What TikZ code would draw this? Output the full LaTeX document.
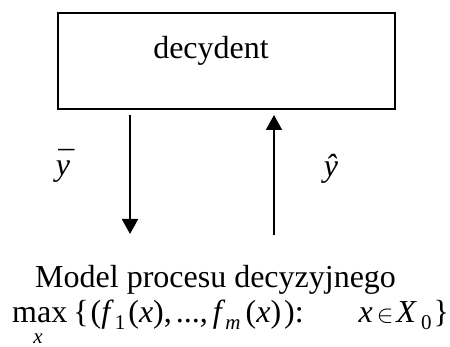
\documentclass[tikz,border=0pt]{standalone}
\usepackage{fontspec}
\setmainfont{Liberation Serif}
\usetikzlibrary{arrows.meta}
\newcommand\bigfont{\fontsize{32}{38}\selectfont}
\newcommand\subfnt[1]{\raisebox{-7pt}{\fontsize{21}{22}\selectfont #1}}
\begin{document}
\begin{tikzpicture}[x=1pt,y=-1pt,
  txt/.style={inner sep=0pt, font=\bigfont},
  flow/.style={line width=2pt, -{Triangle[width=16pt,length=15pt]}}]
\useasboundingbox (0,0) rectangle (450,347);
\node[draw, line width=2pt, minimum width=337pt, minimum height=96pt, inner sep=0pt] (dec) at (226.5,61) {};
\node[txt, anchor=base] (dectext) at (211,59) {decydent};
\coordinate (d1) at (130,115);
\coordinate (d2) at (130,234);
\coordinate (u1) at (274,235);
\coordinate (u2) at (274,115);
\draw[flow] (d1) -- (d2);
\draw[flow] (u1) -- (u2);
\node[txt, anchor=base] (ybar) at (63,176) {\makebox[0pt][l]{\hspace{2.5pt}\raisebox{2pt}{¯}}\textit{y}};
\node[txt, anchor=base] (yhat) at (331,177) {\textit{ŷ}};
\node[txt, anchor=base west] (model) at (35,288) {Model procesu decyzyjnego};
\node[txt, anchor=base west] (maxline) at (12,323) {max\hspace{6pt}\{\hspace{2pt}(\textit{f}\hspace{1pt}\subfnt{1}\hspace{3pt}(\textit{x}),\hspace{4pt}...,\hspace{5pt}\textit{f}\subfnt{\textit{m}}\hspace{5pt}(\textit{x})\hspace{3pt}):\hspace{55pt}\textit{x}\hspace{4pt}$\in$\hspace{3pt}\textit{X}\hspace{4pt}\subfnt{0}\hspace{2pt}\}};
\node[inner sep=0pt, anchor=base, font=\fontsize{21}{22}\selectfont\itshape] (maxsub) at (38,344) {x};
\end{tikzpicture}
\end{document}
